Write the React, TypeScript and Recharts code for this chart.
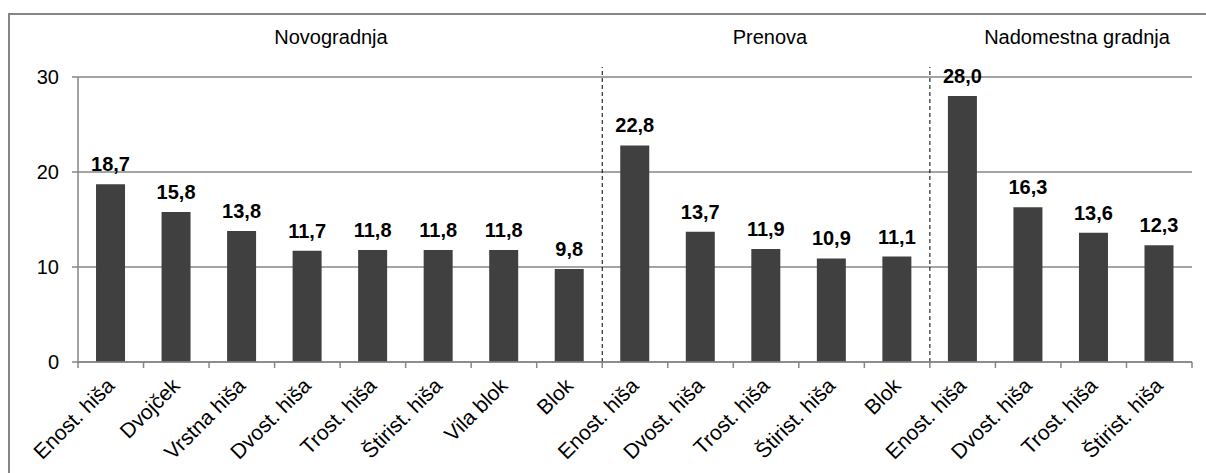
import React from "react";
import {
  BarChart,
  Bar,
  XAxis,
  YAxis,
  CartesianGrid,
  ReferenceLine,
  LabelList,
} from "recharts";

// kategorije objektov po skupinah
const novogradnjaCats = ["Enost. hiša", "Dvojček", "Vrstna hiša", "Dvost. hiša", "Trost. hiša", "Štirist. hiša", "Vila blok", "Blok"];
const prenovaCats = ["Enost. hiša", "Dvost. hiša", "Trost. hiša", "Štirist. hiša", "Blok"];
const nadomestnaCats = ["Enost. hiša", "Dvost. hiša", "Trost. hiša", "Štirist. hiša"];

const novogradnjaVals = [18.7, 15.8, 13.8, 11.7, 11.8, 11.8, 11.8, 9.8];
const prenovaVals = [22.8, 13.7, 11.9, 10.9, 11.1];
const nadomestnaVals = [28.0, 16.3, 13.6, 12.3];

const groupTitles = ["Novogradnja", "Prenova", "Nadomestna gradnja"];
const yTicks = [0, 10, 20, 30];

const labels = [...novogradnjaCats, ...prenovaCats, ...nadomestnaCats];
const values = [...novogradnjaVals, ...prenovaVals, ...nadomestnaVals];
const data = labels.map((name, i) => ({ key: `c${i}`, name, value: values[i] }));

// prvi stolpec druge in tretje skupine (črtkana ločnica pred njima)
const split1 = `c${novogradnjaCats.length}`;
const split2 = `c${novogradnjaCats.length + prenovaCats.length}`;

const GRAY = "#868686";
const FONT = "'Liberation Sans', Arial, sans-serif";

const fmt = (v: number) => v.toFixed(1).replace(".", ",");

// oznaka kategorije pod kotom + kljukice na mejah kategorij
const CatTick = (props: any) => {
  const { x, y, index, payload } = props;
  const half = payload?.offset ?? 0;
  const last = index === labels.length - 1;
  const tx = x + 5;
  const ty = y + 25;
  return (
    <g>
      <line x1={x - half} y1={y} x2={x - half} y2={y + 6} stroke={GRAY} strokeWidth={1.5} />
      {last && <line x1={x + half} y1={y} x2={x + half} y2={y + 6} stroke={GRAY} strokeWidth={1.5} />}
      <text
        x={tx}
        y={ty}
        transform={`rotate(-45, ${tx}, ${ty})`}
        textAnchor="end"
        fontSize={21}
        fontFamily={FONT}
        fill="#000"
      >
        {labels[index]}
      </text>
    </g>
  );
};

export default function App() {
  return (
    <div
      style={{
        position: "fixed",
        left: 0,
        top: 0,
        width: 1206,
        height: 473,
        overflow: "hidden",
        background: "#fff",
        fontFamily: FONT,
      }}
    >
      <div
        style={{
          position: "absolute",
          left: 8,
          top: 13,
          width: 1300,
          height: 600,
          border: `2px solid ${GRAY}`,
        }}
      />
      <svg
        width={1206}
        height={80}
        style={{ position: "absolute", left: 0, top: 0, pointerEvents: "none" }}
      >
        <text x={331} y={44} textAnchor="middle" fontSize={20} fontFamily={FONT} fill="#000">
          {groupTitles[0]}
        </text>
        <text x={770} y={44} textAnchor="middle" fontSize={20} fontFamily={FONT} fill="#000">
          {groupTitles[1]}
        </text>
        <text x={1077} y={44} textAnchor="middle" fontSize={20} fontFamily={FONT} fill="#000">
          {groupTitles[2]}
        </text>
      </svg>
      <div style={{ position: "absolute", left: 0, top: 0 }}>
        <BarChart
          width={1206}
          height={473}
          data={data}
          margin={{ top: 77, right: 14, bottom: 11, left: 18 }}
          barCategoryGap="27.5%"
        >
          <CartesianGrid horizontal vertical={false} stroke={GRAY} strokeWidth={1.5} />
          <XAxis
            dataKey="key"
            interval={0}
            stroke={GRAY}
            strokeWidth={1.5}
            tickLine={false}
            tickSize={0}
            tickMargin={0}
            height={100}
            tick={<CatTick />}
          />
          <YAxis
            domain={[0, 30]}
            ticks={yTicks}
            width={60}
            tickSize={6}
            tickMargin={13}
            stroke={GRAY}
            strokeWidth={1.5}
            tick={{ fill: "#000", fontSize: 20, fontFamily: FONT }}
          />
          <ReferenceLine
            segment={[{ x: split1, y: 0 }, { x: split1, y: 31.05 }]}
            position="start"
            stroke="#000"
            strokeDasharray="4 3"
            ifOverflow="visible"
          />
          <ReferenceLine
            segment={[{ x: split2, y: 0 }, { x: split2, y: 31.05 }]}
            position="start"
            stroke="#000"
            strokeDasharray="4 3"
            ifOverflow="visible"
          />
          <Bar dataKey="value" fill="#404040" isAnimationActive={false}>
            <LabelList
              dataKey="value"
              position="top"
              offset={13}
              formatter={(v: any) => fmt(Number(v))}
              style={{ fontSize: 20, fontWeight: "bold", fontFamily: FONT, fill: "#000" }}
            />
          </Bar>
        </BarChart>
      </div>
    </div>
  );
}
